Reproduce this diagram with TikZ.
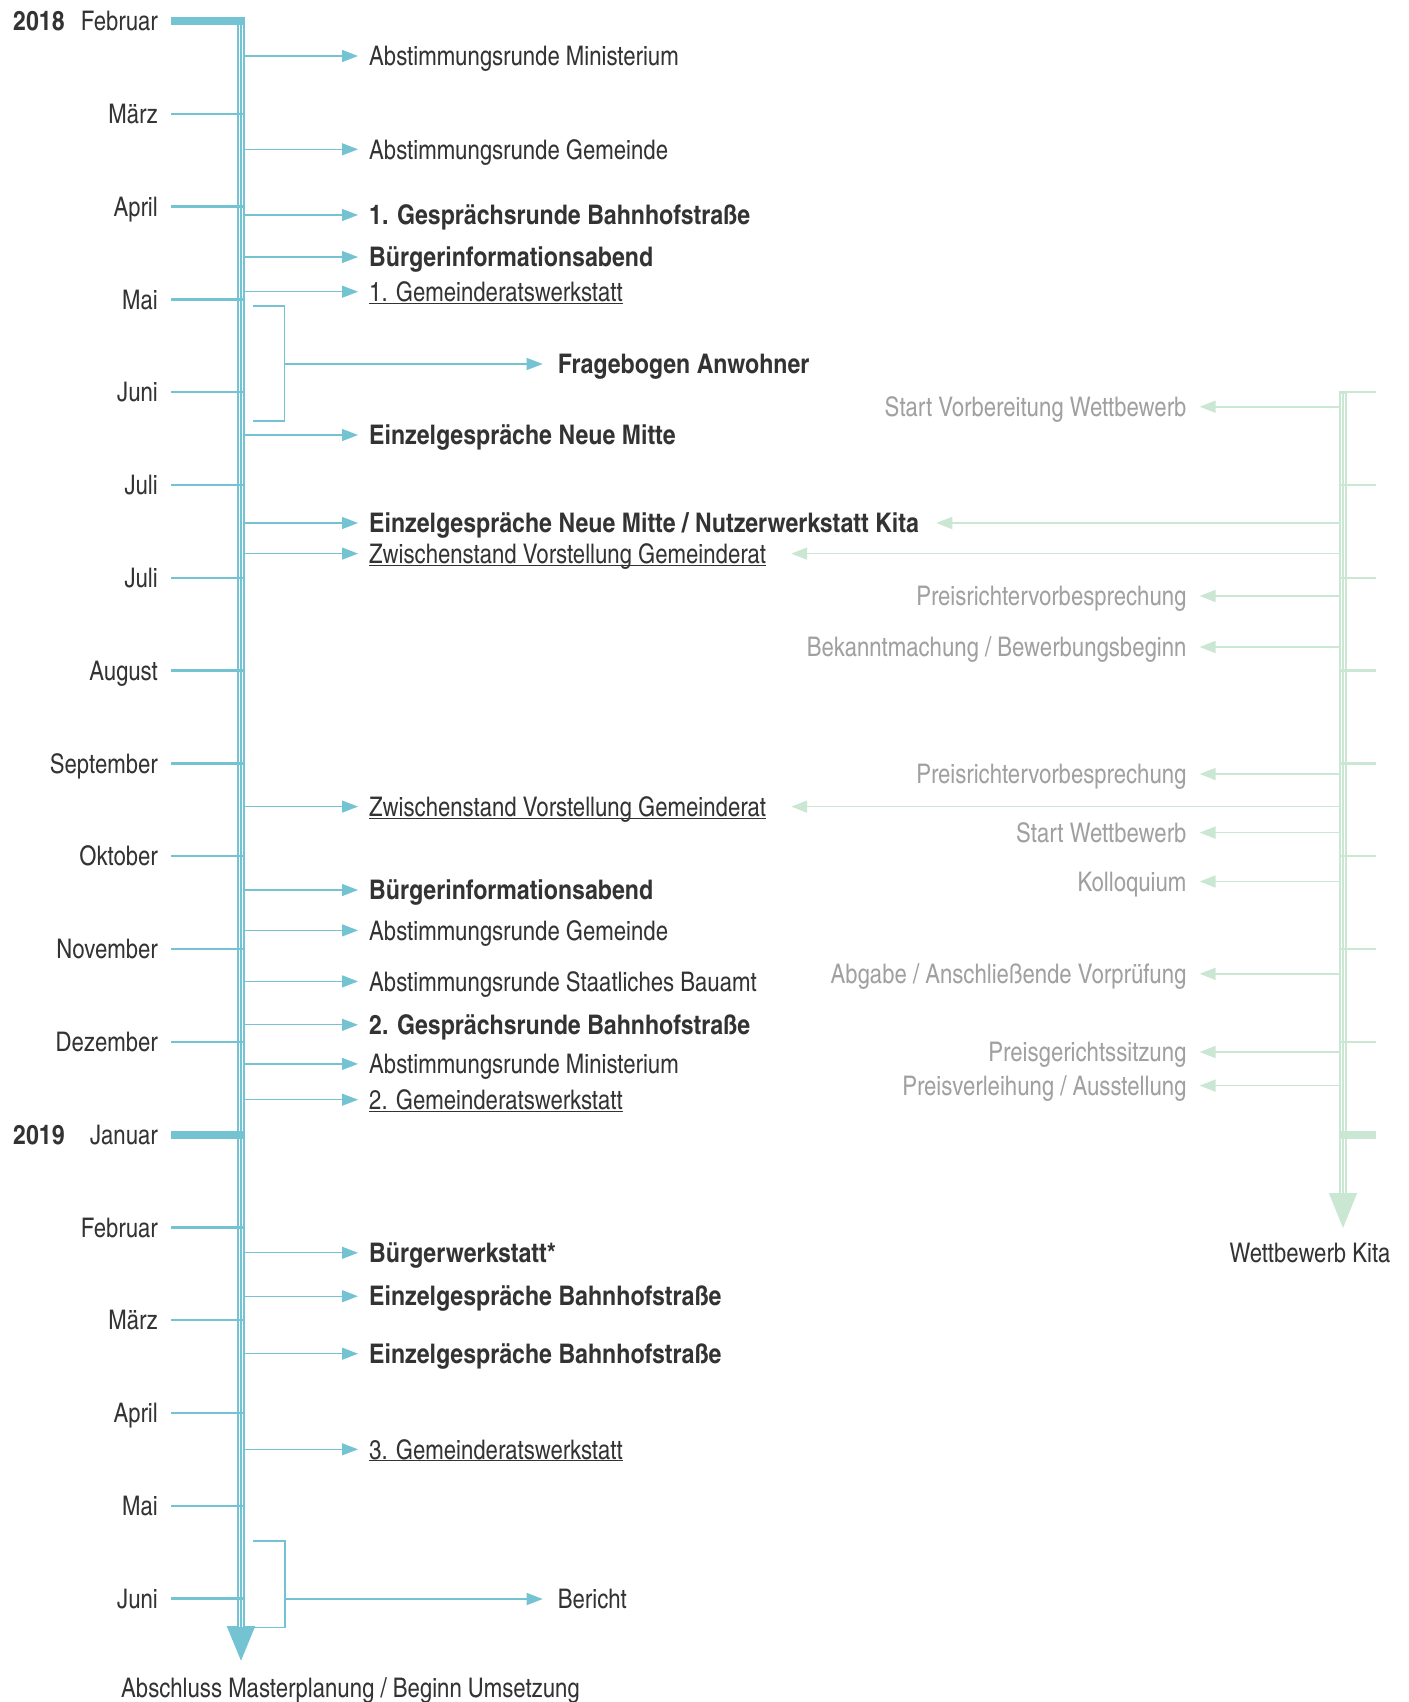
\documentclass[tikz,border=0pt]{standalone}
\usepackage{fontspec}
\setmainfont{texgyreheroscn}[Extension=.otf,UprightFont=*-regular,BoldFont=*-bold,ItalicFont=*-italic,BoldItalicFont=*-bolditalic,BoldFeatures={FakeStretch=1.045}]
\usetikzlibrary{arrows.meta}

\definecolor{tlblue}{HTML}{74C3D3}
\definecolor{tlgreen}{HTML}{C9E7D2}
\definecolor{tltext}{HTML}{333333}
\definecolor{tlgray}{HTML}{A0A0A0}

\newcommand{\tlunder}[1]{\underline{\smash{#1}}}

\tikzset{
  month/.style={anchor=east, inner sep=0pt, text height=19.4pt, text depth=0pt, text=tltext},
  event/.style={anchor=west, inner xsep=11pt, inner ysep=0pt, text height=19.4pt, text depth=0pt, text=tltext},
  kita/.style={anchor=east, inner xsep=13pt, inner ysep=0pt, text height=19.4pt, text depth=0pt, text=tlgray},
  evarrow/.style={tlblue, line width=1.3pt, -{Triangle[length=16pt,width=12pt]}},
  kitaarrow/.style={tlgreen, line width=1.7pt, -{Triangle[length=16pt,width=12pt]}},
}

\begin{document}
\begin{tikzpicture}[x=1pt, y=-1pt, font=\fontsize{27}{31}\selectfont]
    \useasboundingbox (0,0) rectangle (1408,1702);

    % Main time line
    \draw[tlblue, line width=8pt, -{Triangle[length=36pt,width=26pt]}] (241,17) -- (241,1662);
    \draw[white, line width=0.9pt] (239.8,25) -- (239.8,1627) (242.2,25) -- (242.2,1627);

    % Year ticks
    \draw[tlblue, line width=8pt] (171,21) -- (245,21);
    \draw[tlblue, line width=8pt] (171,1134.6) -- (245,1134.6);
    \node[month] (feb) at (158,21) {Februar};
    \node[month, anchor=west] (y2018) at (13,21) {\bfseries 2018};
    \node[month] (jan) at (158,1134.6) {Januar};
    \node[month, anchor=west] (y2019) at (13,1134.6) {\bfseries 2019};

    % Month ticks and labels
    \foreach \y/\m [count=\i] in {113.8/März, 206.6/April, 299.4/Mai, 392.2/Juni, 485/Juli, 577.8/Juli,
        670.6/August, 763.4/September, 856.2/Oktober, 949/November, 1041.8/Dezember,
        1227.4/Februar, 1320.2/März, 1413/April, 1505.8/Mai, 1598.6/Juni} {
        \draw[tlblue, line width=2.5pt] (171,\y) -- (245,\y);
        \node[month] (m\i) at (158,\y) {\m};
    }

    \node[month, anchor=west] (ende) at (121,1688) {Abschluss Masterplanung / Beginn Umsetzung};

    % Events of the master plan
    \foreach \y/\t [count=\i] in {56/{Abstimmungsrunde Ministerium},
        149.3/{Abstimmungsrunde Gemeinde},
        215/{\textbf{1. Gesprächsrunde Bahnhofstraße}},
        257/{\textbf{Bürgerinformationsabend}},
        291.7/{\tlunder{1. Gemeinderatswerkstatt}},
        435/{\textbf{Einzelgespräche Neue Mitte}},
        523/{\textbf{Einzelgespräche Neue Mitte / Nutzerwerkstatt Kita}},
        553.6/{\tlunder{Zwischenstand Vorstellung Gemeinderat}},
        806.6/{\tlunder{Zwischenstand Vorstellung Gemeinderat}},
        890/{\textbf{Bürgerinformationsabend}},
        930.4/{Abstimmungsrunde Gemeinde},
        981.4/{Abstimmungsrunde Staatliches Bauamt},
        1024.8/{\textbf{2. Gesprächsrunde Bahnhofstraße}},
        1063.9/{Abstimmungsrunde Ministerium},
        1099.7/{\tlunder{2. Gemeinderatswerkstatt}},
        1252.8/{\textbf{Bürgerwerkstatt*}},
        1296.2/{\textbf{Einzelgespräche Bahnhofstraße}},
        1353.7/{\textbf{Einzelgespräche Bahnhofstraße}},
        1449.3/{\tlunder{3. Gemeinderatswerkstatt}}} {
        \coordinate (ax\i) at (245,\y);
        \node[event] (ev\i) at (358,\y) {\t};
        \draw[evarrow] (ax\i) -- (ev\i.west);
    }

    % Brackets
    \draw[tlblue, line width=1.3pt] (252.7,306) -| (284.3,421) -- (252.7,421);
    \coordinate (br1) at (284.3,364);
    \node[event, inner xsep=15pt] (frage) at (542.7,364) {\textbf{Fragebogen Anwohner}};
    \draw[evarrow] (br1) -- (frage.west);

    \draw[tlblue, line width=1.3pt] (252.7,1541) -| (285,1627.7) -- (252.7,1627.7);
    \coordinate (br2) at (285,1599);
    \node[event, inner xsep=15pt] (bericht) at (542.7,1599) {Bericht};
    \draw[evarrow] (br2) -- (bericht.west);

    % Competition time line
    \draw[tlgreen, line width=7.4pt, -{Triangle[length=36pt,width=26pt]}] (1343,391) -- (1343,1229);
    \draw[white, line width=0.9pt] (1341.9,394) -- (1341.9,1193) (1344.1,394) -- (1344.1,1193);
    \foreach \y in {392.2, 485, 577.8, 670.6, 763.4, 856.2, 949, 1041.8} {
        \draw[tlgreen, line width=2.5pt] (1340,\y) -- (1376,\y);
    }
    \draw[tlgreen, line width=8pt] (1340,1134.6) -- (1376,1134.6);
    \node[month, anchor=center] (kita) at (1310,1253) {Wettbewerb Kita};

    % Events of the competition
    \foreach \y/\t [count=\i] in {406.7/{Start Vorbereitung Wettbewerb},
        596/{Preisrichtervorbesprechung},
        647/{Bekanntmachung / Bewerbungsbeginn},
        774/{Preisrichtervorbesprechung},
        832.6/{Start Wettbewerb},
        881.5/{Kolloquium},
        973.8/{Abgabe / Anschließende Vorprüfung},
        1052/{Preisgerichtssitzung},
        1085.6/{Preisverleihung / Ausstellung}} {
        \coordinate (kx\i) at (1340,\y);
        \node[kita] (kv\i) at (1199.6,\y) {\t};
        \draw[kitaarrow] (kx\i) -- (kv\i.east);
    }

    % Shared events
    \coordinate (kx10) at (1340,523);
    \coordinate (kx11) at (1340,553.6);
    \coordinate (kx12) at (1340,806.6);
    \draw[kitaarrow] (kx10) -- ([xshift=6pt]ev7.east);
    \draw[kitaarrow] (kx11) -- ([xshift=14pt]ev8.east);
    \draw[kitaarrow] (kx12) -- ([xshift=14pt]ev9.east);

\end{tikzpicture}
\end{document}
